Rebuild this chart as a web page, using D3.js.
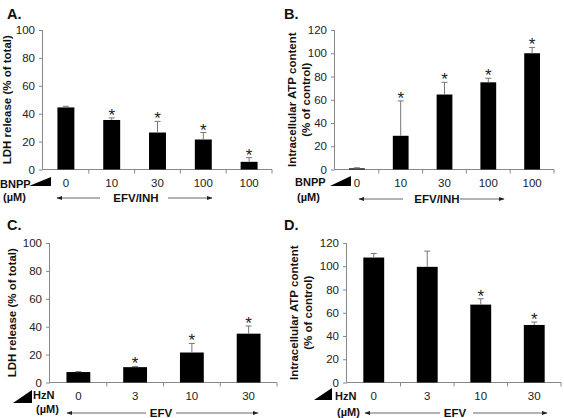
<!DOCTYPE html>
<html><head><meta charset="utf-8">
<script src="https://cdn.jsdelivr.net/npm/d3@7/dist/d3.min.js"></script>
<style>body{margin:0;background:#fff}svg{display:block}text{font-family:"Liberation Sans",Arial,sans-serif}</style>
</head><body>
<script>
// ---- data ----
const catsA = ["0","10","30","100","100"];
const valsA = [44.5,35.5,26.5,21.5,5.5];
const errA  = [0.8,1.5,8,5,3];
const sigA  = [false,true,true,true,true];

const catsB = ["0","10","30","100","100"];
const valsB = [1,29,64.5,75,100];
const errB  = [0.5,30,10.5,3.5,5];
const sigB  = [false,true,true,true,true];

const catsC = ["0","3","10","30"];
const valsC = [7.5,11,21.5,35];
const errC  = [0.3,0.5,6.5,5.5];
const sigC  = [false,true,true,true];

const catsD = ["0","3","10","30"];
const valsD = [107.5,99.5,67,49.5];
const errD  = [3.5,13.5,5,2.5];
const sigD  = [false,false,true,true];

const ticksLDH = [0,20,40,60,80,100];
const ticksATP = [0,20,40,60,80,100,120];

const W=564,H=418;
const svg=d3.select("body").append("svg").attr("width",W).attr("height",H);
svg.append("defs").append("marker").attr("id","ah").attr("viewBox","0 0 10 10")
  .attr("refX",9).attr("refY",5).attr("markerWidth",6).attr("markerHeight",6).attr("orient","auto-start-reverse")
  .append("path").attr("d","M0,1.5L10,5L0,8.5z").attr("fill","#222");

const panels=[
 {letter:"A.",lx:7,ly:19,cats:catsA,vals:valsA,err:errA,sig:sigA,ticks:ticksLDH,max:100,x0:43,x1:272,yb:169.5,yt:30,bw:0.37,
  ylab:["LDH release (% of total)"],ylx:[7],
  drug:"BNPP",drugX:0,drugY:188,triX:[29,51],triY:[177,186],umX:3,umY:201,
  arrow:{y:198,l:[57,100],txt:"EFV/INH",tx:136,r:[168,212]}},
 {letter:"B.",lx:284,ly:19,cats:catsB,vals:valsB,err:errB,sig:sigB,ticks:ticksATP,max:120,x0:335,x1:554,yb:169.5,yt:30,bw:0.36,
  ylab:["Intracellular ATP content","(% of control)"],ylx:[292,306],
  drug:"BNPP",drugX:295,drugY:186,triX:[330,351],triY:[176,186],umX:297,umY:201,
  arrow:{y:199,l:[359,403],txt:"EFV/INH",tx:437,r:[460,504]}},
 {letter:"C.",lx:7,ly:230,cats:catsC,vals:valsC,err:errC,sig:sigC,ticks:ticksLDH,max:100,x0:50,x1:277,yb:382.5,yt:243,bw:0.42,
  ylab:["LDH release (% of total)"],ylx:[12],
  drug:"HzN",drugX:33,drugY:399,triX:[13,32],triY:[390,403],umX:36,umY:413,
  arrow:{y:413,l:[67,146],txt:"EFV",tx:161,r:[176,258]}},
 {letter:"D.",lx:284,ly:230,cats:catsD,vals:valsD,err:errD,sig:sigD,ticks:ticksATP,max:120,x0:347,x1:561,yb:382.5,yt:243,bw:0.39,
  ylab:["Intracellular ATP content","(% of control)"],ylx:[294,308],
  drug:"HzN",drugX:335,drugY:400,triX:[314,332],triY:[388,400],umX:337,umY:416,
  arrow:{y:413,l:[365,440],txt:"EFV",tx:455,r:[473,547]}}
];

panels.forEach(p=>{
  const g=svg.append("g");
  const x=d3.scaleBand().domain(d3.range(p.cats.length)).range([p.x0,p.x1]).padding(0);
  const y=d3.scaleLinear().domain([0,p.max]).range([p.yb,p.yt]);
  g.append("text").attr("x",p.lx).attr("y",p.ly).attr("font-size",14.5).attr("font-weight","bold").attr("fill","#111").text(p.letter);
  const ya=g.append("g").attr("transform",`translate(${p.x0},0)`)
    .call(d3.axisLeft(y).tickValues(p.ticks).tickSize(4).tickPadding(4).tickFormat(d3.format("d")));
  ya.select(".domain").attr("stroke","#888").attr("d",`M-0.5,${p.yb}V${p.yt}`);
  ya.selectAll(".tick line").attr("stroke","#888");
  ya.selectAll(".tick text").attr("font-size",11.5).attr("fill","#222").style("font-family","Liberation Sans, Arial");
  const bounds=d3.range(p.cats.length+1).map(i=>i<p.cats.length?x(i):p.x1);
  g.append("line").attr("x1",p.x0).attr("x2",p.x1).attr("y1",p.yb).attr("y2",p.yb).attr("stroke","#888");
  g.selectAll(".bt").data(bounds.slice(1)).enter().append("line")
    .attr("x1",d=>d).attr("x2",d=>d).attr("y1",p.yb).attr("y2",p.yb+4).attr("stroke","#888");
  g.selectAll(".xl").data(p.cats).enter().append("text")
    .attr("x",(d,i)=>x(i)+x.bandwidth()/2).attr("y",p.yb+17).attr("text-anchor","middle")
    .attr("font-size",11.5).attr("fill","#222").text(d=>d);
  const bw=x.bandwidth()*p.bw;
  g.selectAll(".bar").data(p.vals).enter().append("rect")
    .attr("x",(d,i)=>x(i)+x.bandwidth()/2-bw/2).attr("width",bw)
    .attr("y",d=>y(d)).attr("height",d=>p.yb-y(d)).attr("fill","#000");
  p.vals.forEach((v,i)=>{
    const cx=x(i)+x.bandwidth()/2, top=y(v+p.err[i]);
    g.append("line").attr("x1",cx).attr("x2",cx).attr("y1",y(v)).attr("y2",top).attr("stroke","#777").attr("stroke-width",1);
    g.append("line").attr("x1",cx-3).attr("x2",cx+3).attr("y1",top).attr("y2",top).attr("stroke","#777").attr("stroke-width",1);
    if(p.sig[i]) g.append("text").attr("x",cx).attr("y",top+3).attr("text-anchor","middle")
      .attr("font-size",17).attr("fill","#222").text("*");
  });
  const yc=(p.yb+p.yt)/2;
  p.ylab.forEach((t,k)=>{
    g.append("text").attr("transform",`translate(${p.ylx[k]},${yc}) rotate(-90)`).attr("text-anchor","middle")
      .attr("dy","0.35em").attr("font-size",11.5).attr("font-weight","bold").attr("fill","#111").text(t);
  });
  g.append("text").attr("x",p.drugX).attr("y",p.drugY).attr("font-size",11).attr("font-weight","bold").attr("fill","#111").text(p.drug);
  g.append("path").attr("d",`M${p.triX[0]},${p.triY[1]}L${p.triX[1]},${p.triY[0]}L${p.triX[1]},${p.triY[1]}Z`).attr("fill","#000");
  g.append("text").attr("x",p.umX).attr("y",p.umY).attr("font-size",11).attr("font-weight","bold").attr("fill","#111").text("(µM)");
  const a=p.arrow;
  g.append("line").attr("x1",a.l[1]).attr("x2",a.l[0]).attr("y1",a.y).attr("y2",a.y).attr("stroke","#666").attr("marker-end","url(#ah)");
  g.append("line").attr("x1",a.r[0]).attr("x2",a.r[1]).attr("y1",a.y).attr("y2",a.y).attr("stroke","#666").attr("marker-end","url(#ah)");
  g.append("text").attr("x",a.tx).attr("y",a.y+4).attr("text-anchor","middle").attr("font-size",11.5).attr("font-weight","bold").attr("fill","#111").text(a.txt);
});
</script>
</body></html>
